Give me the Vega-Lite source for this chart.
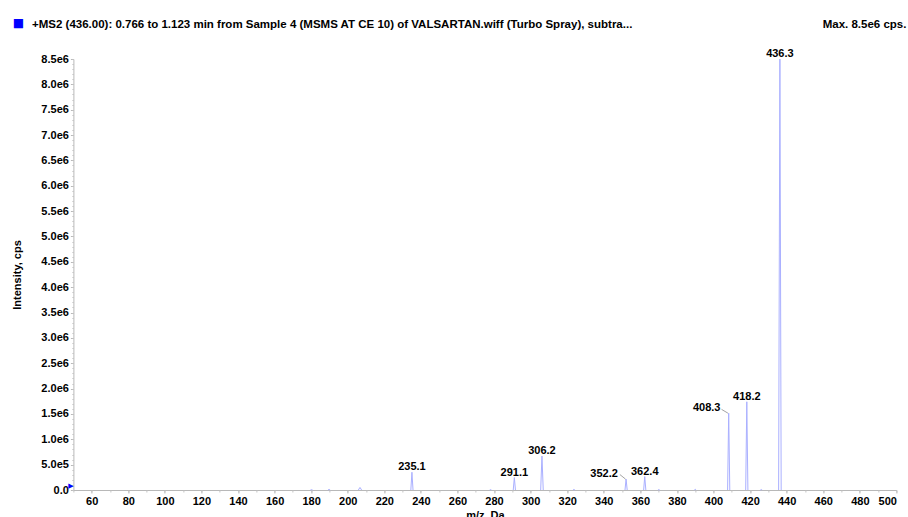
{
  "$schema": "https://vega.github.io/schema/vega-lite/v6.json",
  "width": 823,
  "height": 431,
  "autosize": "none",
  "padding": {"left": 73.4, "top": 59, "right": 11.6, "bottom": 27},
  "background": "white",
  "config": {
    "view": {"stroke": null},
    "font": "Liberation Sans",
    "text": {"font": "Liberation Sans"}
  },
  "datasets": {
    "profile": [
      {"peak": "180", "mz": 179.6, "intensity": 0},
      {"peak": "180", "mz": 180.2, "intensity": 8000},
      {"peak": "180", "mz": 180.8, "intensity": 0},
      {"peak": "190", "mz": 189.2, "intensity": 0},
      {"peak": "190", "mz": 189.8, "intensity": 12000},
      {"peak": "190", "mz": 190.4, "intensity": 0},
      {"peak": "207", "mz": 205.8, "intensity": 0},
      {"peak": "207", "mz": 206.7, "intensity": 50000},
      {"peak": "207", "mz": 207.6, "intensity": 0},
      {"peak": "235.1", "mz": 234.5, "intensity": 0},
      {"peak": "235.1", "mz": 235.1, "intensity": 350000},
      {"peak": "235.1", "mz": 235.7, "intensity": 0},
      {"peak": "278", "mz": 277.6, "intensity": 0},
      {"peak": "278", "mz": 278.1, "intensity": 8000},
      {"peak": "278", "mz": 278.6, "intensity": 0},
      {"peak": "291.1", "mz": 290.5, "intensity": 0},
      {"peak": "291.1", "mz": 291.1, "intensity": 245000},
      {"peak": "291.1", "mz": 291.7, "intensity": 0},
      {"peak": "306.2", "mz": 305.5, "intensity": 0},
      {"peak": "306.2", "mz": 306.2, "intensity": 670000},
      {"peak": "306.2", "mz": 306.9, "intensity": 0},
      {"peak": "324", "mz": 323.2, "intensity": 0},
      {"peak": "324", "mz": 323.7, "intensity": 12000},
      {"peak": "324", "mz": 324.2, "intensity": 0},
      {"peak": "352.2", "mz": 351.6, "intensity": 0},
      {"peak": "352.2", "mz": 352.2, "intensity": 215000},
      {"peak": "352.2", "mz": 352.8, "intensity": 0},
      {"peak": "362.4", "mz": 361.8, "intensity": 0},
      {"peak": "362.4", "mz": 362.4, "intensity": 265000},
      {"peak": "362.4", "mz": 363.0, "intensity": 0},
      {"peak": "370", "mz": 369.6, "intensity": 0},
      {"peak": "370", "mz": 370.1, "intensity": 8000},
      {"peak": "370", "mz": 370.6, "intensity": 0},
      {"peak": "390", "mz": 389.5, "intensity": 0},
      {"peak": "390", "mz": 390.0, "intensity": 14000},
      {"peak": "390", "mz": 390.5, "intensity": 0},
      {"peak": "408.3", "mz": 407.7, "intensity": 0},
      {"peak": "408.3", "mz": 408.3, "intensity": 1515000},
      {"peak": "408.3", "mz": 408.9, "intensity": 0},
      {"peak": "418.2", "mz": 417.6, "intensity": 0},
      {"peak": "418.2", "mz": 418.2, "intensity": 1740000},
      {"peak": "418.2", "mz": 418.8, "intensity": 0},
      {"peak": "426", "mz": 425.6, "intensity": 0},
      {"peak": "426", "mz": 426.1, "intensity": 9000},
      {"peak": "426", "mz": 426.6, "intensity": 0},
      {"peak": "436.3", "mz": 435.6, "intensity": 0},
      {"peak": "436.3", "mz": 436.3, "intensity": 8500000},
      {"peak": "436.3", "mz": 437.0, "intensity": 0}
    ],
    "peaks": [
      {"label": "235.1", "mz": 235.1, "intensity": 350000, "callout": false},
      {"label": "291.1", "mz": 291.1, "intensity": 245000, "callout": false},
      {"label": "306.2", "mz": 306.2, "intensity": 670000, "callout": false},
      {"label": "352.2", "mz": 352.2, "intensity": 215000, "callout": true},
      {"label": "362.4", "mz": 362.4, "intensity": 265000, "callout": false},
      {"label": "408.3", "mz": 408.3, "intensity": 1515000, "callout": true},
      {"label": "418.2", "mz": 418.2, "intensity": 1740000, "callout": false},
      {"label": "436.3", "mz": 436.3, "intensity": 8500000, "callout": false}
    ]
  },
  "layer": [
    {
      "data": {"name": "profile"},
      "mark": {"type": "line", "color": "#aab0ff", "strokeWidth": 1, "interpolate": "linear"},
      "encoding": {
        "x": {
          "field": "mz", "type": "quantitative",
          "scale": {"domain": [50, 500], "nice": false, "zero": false},
          "axis": {
            "orient": "bottom",
            "values": [60, 80, 100, 120, 140, 160, 180, 200, 220, 240, 260, 280, 300, 320, 340, 360, 380, 400, 420, 440, 460, 480, 500],
            "grid": false,
            "domainColor": "#b8b8b8",
            "tickColor": "#b8b8b8",
            "tickSize": 3,
            "labelPadding": 2,
            "labelFont": "Liberation Sans",
            "labelFontWeight": "bold",
            "labelFontSize": 11,
            "labelColor": "#000000",
            "title": "m/z, Da",
            "titleFont": "Liberation Sans",
            "titleFontWeight": "bold",
            "titleFontSize": 11,
            "titleColor": "#000000",
            "titlePadding": 3
          }
        },
        "y": {
          "field": "intensity", "type": "quantitative",
          "scale": {"domain": [0, 8500000], "nice": false},
          "axis": {
            "orient": "left",
            "values": [0, 500000, 1000000, 1500000, 2000000, 2500000, 3000000, 3500000, 4000000, 4500000, 5000000, 5500000, 6000000, 6500000, 7000000, 7500000, 8000000, 8500000],
            "labelExpr": "datum.value == 0 ? '0.0' : datum.value < 1000000 ? format(datum.value / 100000, '.1f') + 'e5' : format(datum.value / 1000000, '.1f') + 'e6'",
            "grid": false,
            "domainColor": "#b8b8b8",
            "tickColor": "#b8b8b8",
            "tickSize": 3,
            "labelPadding": 2,
            "labelFont": "Liberation Sans",
            "labelFontWeight": "bold",
            "labelFontSize": 11,
            "labelColor": "#000000",
            "title": "Intensity, cps",
            "titleFont": "Liberation Sans",
            "titleFontWeight": "bold",
            "titleFontSize": 11,
            "titleColor": "#000000",
            "titlePadding": 18
          }
        },
        "detail": {"field": "peak", "type": "nominal"}
      }
    },
    {
      "data": {"name": "peaks"},
      "transform": [{"filter": "!datum.callout"}],
      "mark": {"type": "text", "font": "Liberation Sans", "fontWeight": "bold", "fontSize": 11, "color": "#000000", "align": "center", "baseline": "alphabetic", "dy": -2},
      "encoding": {
        "x": {
          "field": "mz", "type": "quantitative",
          "axis": {"orient": "bottom", "tickCount": 45, "labels": false, "domain": false, "grid": false, "tickColor": "#c4c4c4", "tickSize": 2, "title": null}
        },
        "y": {
          "field": "intensity", "type": "quantitative",
          "axis": {"orient": "left", "tickCount": 85, "labels": false, "domain": false, "grid": false, "tickColor": "#c4c4c4", "tickSize": 1.5, "title": null}
        },
        "text": {"field": "label", "type": "nominal"}
      }
    },
    {
      "data": {"name": "peaks"},
      "transform": [{"filter": "datum.callout"}],
      "mark": {"type": "text", "font": "Liberation Sans", "fontWeight": "bold", "fontSize": 11, "color": "#000000", "align": "center", "baseline": "alphabetic", "dx": -22, "dy": -2},
      "encoding": {
        "x": {"field": "mz", "type": "quantitative", "axis": null},
        "y": {"field": "intensity", "type": "quantitative", "axis": null},
        "text": {"field": "label", "type": "nominal"}
      }
    },
    {
      "data": {"values": [{}]},
      "mark": {"type": "rule", "color": "#8c8c8c", "strokeWidth": 0.8},
      "encoding": {
        "x": {"datum": 404.4, "type": "quantitative", "axis": null},
        "x2": {"datum": 407.9},
        "y": {"datum": 1590000, "type": "quantitative", "axis": null},
        "y2": {"datum": 1515000}
      }
    },
    {
      "data": {"values": [{}]},
      "mark": {"type": "rule", "color": "#8c8c8c", "strokeWidth": 0.8},
      "encoding": {
        "x": {"datum": 348.8, "type": "quantitative", "axis": null},
        "x2": {"datum": 351.9},
        "y": {"datum": 305000, "type": "quantitative", "axis": null},
        "y2": {"datum": 215000}
      }
    },
    {
      "data": {"values": [{}]},
      "mark": {"type": "text", "text": "+MS2 (436.00): 0.766 to 1.123 min from Sample 4 (MSMS AT CE 10) of VALSARTAN.wiff (Turbo Spray), subtra...", "font": "Liberation Sans", "fontWeight": "bold", "fontSize": 11.5, "color": "#000000", "align": "left", "baseline": "middle", "dx": -41.4, "dy": -34},
      "encoding": {
        "x": {"datum": 50, "type": "quantitative", "axis": null},
        "y": {"datum": 8500000, "type": "quantitative", "axis": null}
      }
    },
    {
      "data": {"values": [{}]},
      "mark": {"type": "text", "text": "Max. 8.5e6 cps.", "font": "Liberation Sans", "fontWeight": "bold", "fontSize": 11.5, "color": "#000000", "align": "right", "baseline": "middle", "dx": 10, "dy": -34},
      "encoding": {
        "x": {"datum": 500, "type": "quantitative", "axis": null},
        "y": {"datum": 8500000, "type": "quantitative", "axis": null}
      }
    },
    {
      "data": {"values": [{}]},
      "mark": {"type": "text", "text": "■", "font": "DejaVu Sans", "fontSize": 12, "color": "#0000ff", "align": "center", "baseline": "middle", "dx": -55, "dy": -36},
      "encoding": {
        "x": {"datum": 50, "type": "quantitative", "axis": null},
        "y": {"datum": 8500000, "type": "quantitative", "axis": null}
      }
    },
    {
      "data": {"values": [{}]},
      "mark": {"type": "text", "text": "▶", "font": "DejaVu Sans", "fontSize": 7, "color": "#0000ff", "align": "center", "baseline": "middle", "dx": -2.5, "dy": -4},
      "encoding": {
        "x": {"datum": 50, "type": "quantitative", "axis": null},
        "y": {"datum": 0, "type": "quantitative", "axis": null}
      }
    }
  ],
  "resolve": {"axis": {"x": "independent", "y": "independent"}}
}
